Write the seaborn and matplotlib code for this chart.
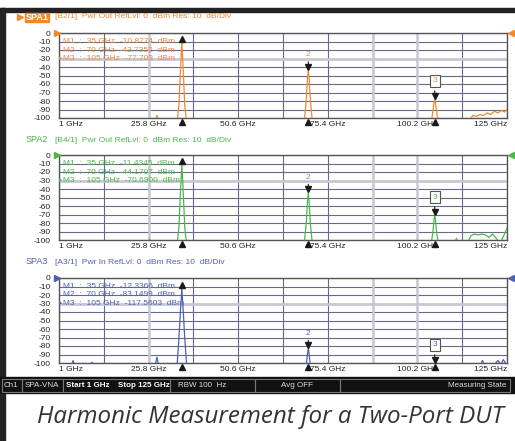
import numpy as np
import pandas as pd
import seaborn as sns
import matplotlib.pyplot as plt
from matplotlib import transforms

# Trace data (GHz, dBm)
spa1_freq = [1.0, 27.6, 28.1, 28.6, 33.6, 34.2, 34.6, 35.0, 35.4, 35.8, 36.4,
             68.8, 69.4, 69.8, 70.0, 70.2, 70.6, 71.2,
             103.9, 104.5, 104.8, 105.0, 105.2, 105.5, 106.1,
             114.5, 115.5, 116.5, 117.5, 118.5, 119.5, 120.5, 121.5, 122.5, 123.5, 124.3, 125.0]
spa1_lvl = [-108, -104, -97, -104, -108, -85, -45, -10.9, -45, -85, -108,
            -108, -80, -52, -43.7, -52, -80, -108,
            -108, -92, -82, -77.7, -82, -92, -108,
            -104, -97, -98, -96, -97, -94, -96, -92, -94, -91, -93, -90]

spa2_freq = [1.0, 25.5, 26.0, 26.5, 33.6, 34.2, 34.6, 35.0, 35.4, 35.8, 36.4,
             68.8, 69.4, 69.8, 70.0, 70.2, 70.6, 71.2,
             103.9, 104.5, 104.8, 105.0, 105.2, 105.5, 106.1,
             110.5, 111.0, 111.5, 114.0, 115.0, 116.0, 117.0, 118.0, 119.0, 120.0,
             121.0, 122.0, 123.0, 124.0, 124.5, 125.0]
spa2_lvl = [-108, -104, -99, -104, -108, -85, -45, -11.4, -45, -85, -108,
            -108, -82, -53, -44.2, -53, -82, -108,
            -108, -90, -76, -70.7, -76, -90, -108,
            -104, -98, -104, -104, -95, -93, -94, -93, -94, -97,
            -93, -98, -104, -96, -91, -86]

spa3_freq = [1.0, 4.4, 4.9, 5.4, 9.6, 10.1, 10.6, 27.6, 28.1, 28.6,
             33.6, 34.2, 34.6, 35.0, 35.4, 35.8, 36.4,
             69.4, 69.8, 70.0, 70.2, 70.6,
             117.5, 118.2, 119.0, 121.0, 122.5, 123.3, 124.0, 125.0]
spa3_lvl = [-108, -104, -97, -104, -104, -99, -104, -104, -93, -104,
            -108, -70, -40, -12.3, -40, -70, -108,
            -104, -88, -83.1, -88, -104,
            -104, -97, -104, -104, -97, -102, -96, -103]

# Marker readouts
mk_freq = [35, 70, 105]
spa1_mk = ['-10.8774', '-43.7352', '-77.703']
spa2_mk = ['-11.4345', '-44.1707', '-70.6900']
spa3_mk = ['-12.3366', '-83.1499', '-117.5603']

x_labels = ['1 GHz', '25.8 GHz', '50.6 GHz', '75.4 GHz', '100.2 GHz', '125 GHz']
y_labels = ['0', '-10', '-20', '-30', '-40', '-50', '-60', '-70', '-80', '-90', '-100']

titles = ['SPA1', 'SPA2', 'SPA3']
subtitles = ['[B2/1]  Pwr Out RefLvl: 0  dBm Res: 10  dB/Div',
             '[B4/1]  Pwr Out RefLvl: 0  dBm Res: 10  dB/Div',
             '[A3/1]  Pwr In RefLvl: 0  dBm Res: 10  dB/Div']
colors = ['#F0892E', '#4CB84C', '#5060B0']

sns.set_theme(style='white')
plt.rcParams['font.family'] = ['Liberation Sans', 'DejaVu Sans']

W, H = 515, 441
fig = plt.figure(figsize=(W / 100, H / 100), dpi=100)


def box(x0, y0, x1, y1):
    return [x0 / W, 1 - y1 / H, (x1 - x0) / W, (y1 - y0) / H]


# screen frame, status bar, caption
bg = fig.add_axes([0, 0, 1, 1], zorder=0)
bg.set_xlim(0, W)
bg.set_ylim(H, 0)
bg.axis('off')
bg.add_patch(plt.Rectangle((0, 8), W, 3.5, color='#222222'))
bg.add_patch(plt.Rectangle((0, 8), 5, H - 8, color='#222222'))
bg.add_patch(plt.Rectangle((0, 377), W, 16, color='#111111'))
for x0, x1 in [(2, 22), (22, 63), (63, 170), (170, 255), (255, 340), (340, 510)]:
    bg.add_patch(plt.Rectangle((x0, 379), x1 - x0, 12.5, fill=False, ec='#777777', lw=0.8))
sb = dict(fontsize=5.8, va='center', color='#dddddd')
bg.text(4, 385.5, 'Ch1', **sb)
bg.text(25, 385.5, 'SPA-VNA', **sb)
bg.text(66, 385.5, 'Start 1 GHz', fontweight='bold', **{**sb, 'color': 'white'})
bg.text(118, 385.5, 'Stop 125 GHz', fontweight='bold', **{**sb, 'color': 'white'})
bg.text(202, 385.5, 'RBW 100  Hz', ha='center', **sb)
bg.text(297, 385.5, 'Avg OFF', ha='center', **sb)
bg.text(506, 385.5, 'Measuring State', ha='right', **sb)
bg.text(270, 417, 'Harmonic Measurement for a Two-Port DUT', ha='center', va='center',
        fontsize=17.4, style='italic', color='#333333', family='Open Sans')

traces = [(spa1_freq, spa1_lvl, spa1_mk), (spa2_freq, spa2_lvl, spa2_mk),
          (spa3_freq, spa3_lvl, spa3_mk)]
tops = [33, 155, 278]
title_y = [17, 140, 262]

for i, (freq, lvl, mk) in enumerate(traces):
    c = colors[i]
    ax = fig.add_axes(box(59, tops[i], 507, tops[i] + 85), zorder=1)
    df = pd.DataFrame({'f': freq, 'p': lvl})
    sns.lineplot(data=df, x='f', y='p', ax=ax, color=c, lw=0.9, estimator=None, sort=False, zorder=3)
    ax.set_xlim(1, 125)
    ax.set_ylim(-100, 0)
    ax.set_xlabel('')
    ax.set_ylabel('')

    xt = np.linspace(1, 125, 11)
    ax.set_xticks(xt)
    lab = [''] * 11
    lab[::2] = x_labels
    ax.set_xticklabels(lab)
    ax.set_yticks(np.arange(0, -101, -10))
    ax.set_yticklabels(y_labels)
    ax.tick_params(length=0, labelsize=6, colors='#222222')
    ax.tick_params(axis='x', pad=2)
    ax.tick_params(axis='y', pad=6)
    xl = ax.get_xticklabels()
    xl[0].set_ha('left')
    xl[-1].set_ha('right')
    ax.grid(True, color='#6a6a88', lw=0.8)
    ax.axhline(-30, color='#c8c8d4', lw=2, zorder=1)
    for xv in [25.8, 87.8, 100.2]:
        ax.axvline(xv, color='#c8c8d4', lw=1.8, zorder=1)
    for s in ax.spines.values():
        s.set_color('#555555')
        s.set_linewidth(1)

    # readout table
    tx = transforms.blended_transform_factory(ax.transAxes, ax.transData)
    for k in range(3):
        ax.text(0.009, -10 * (k + 1), f'M{k + 1}  :  {mk_freq[k]} GHz  {mk[k]}  dBm', transform=tx,
                fontsize=6, color=c, va='center', ha='left', zorder=4)
    ax.text(-0.001, -30, '\u25b8', transform=tx, fontsize=5, color=c, va='center', ha='left',
            family='DejaVu Sans')

    # markers
    vals = [max(float(v), -100) for v in mk]
    up = transforms.offset_copy(ax.transData, fig=fig, x=0, y=2.5, units='points')
    ax.plot(mk_freq[0], vals[0], marker='^', ms=4, color='k', transform=up, zorder=5)
    for k in [1, 2]:
        ax.annotate('', xy=(mk_freq[k], vals[k]), xytext=(0, 8), textcoords='offset points',
                    arrowprops=dict(arrowstyle='-', color='k', lw=0.8), zorder=5)
        ax.plot(mk_freq[k], vals[k], marker='v', ms=4.5, color='k', transform=up, zorder=5)
        bb = dict(boxstyle='square,pad=0.3', fc='white', ec='#555555', lw=0.8) if k == 2 else None
        ax.annotate(str(k + 1), xy=(mk_freq[k], vals[k]), xytext=(0, 13 if k == 2 else 11),
                    textcoords='offset points', ha='center', va='center', fontsize=6,
                    color=c, bbox=bb, zorder=5)
    bt = transforms.blended_transform_factory(ax.transData, ax.transAxes)
    ax.plot(mk_freq, [-0.045] * 3, ls='none', marker='^', ms=4, color='k', transform=bt, clip_on=False)
    ax.plot([-0.004], [1.0], marker='>', ms=4.5, color=c, transform=ax.transAxes, clip_on=False, zorder=6)
    ax.plot([1.008], [1.0], marker='<', ms=4.5, color=c, transform=ax.transAxes, clip_on=False, zorder=6)

    # title row
    ty = title_y[i]
    if i == 0:
        bg.plot(19.5, ty, marker='>', ms=4.5, color=c)
        bg.add_patch(plt.Rectangle((25, ty - 4.5), 24, 9, color=c))
        bg.text(26, ty, titles[i], fontsize=6.5, fontweight='bold', color='white', va='center')
    else:
        bg.text(26, ty, titles[i], fontsize=6.5, color=c, va='center')
    bg.text(55, ty, subtitles[i], fontsize=6, color=c, va='center')

fig.savefig('out.png', dpi=100)
